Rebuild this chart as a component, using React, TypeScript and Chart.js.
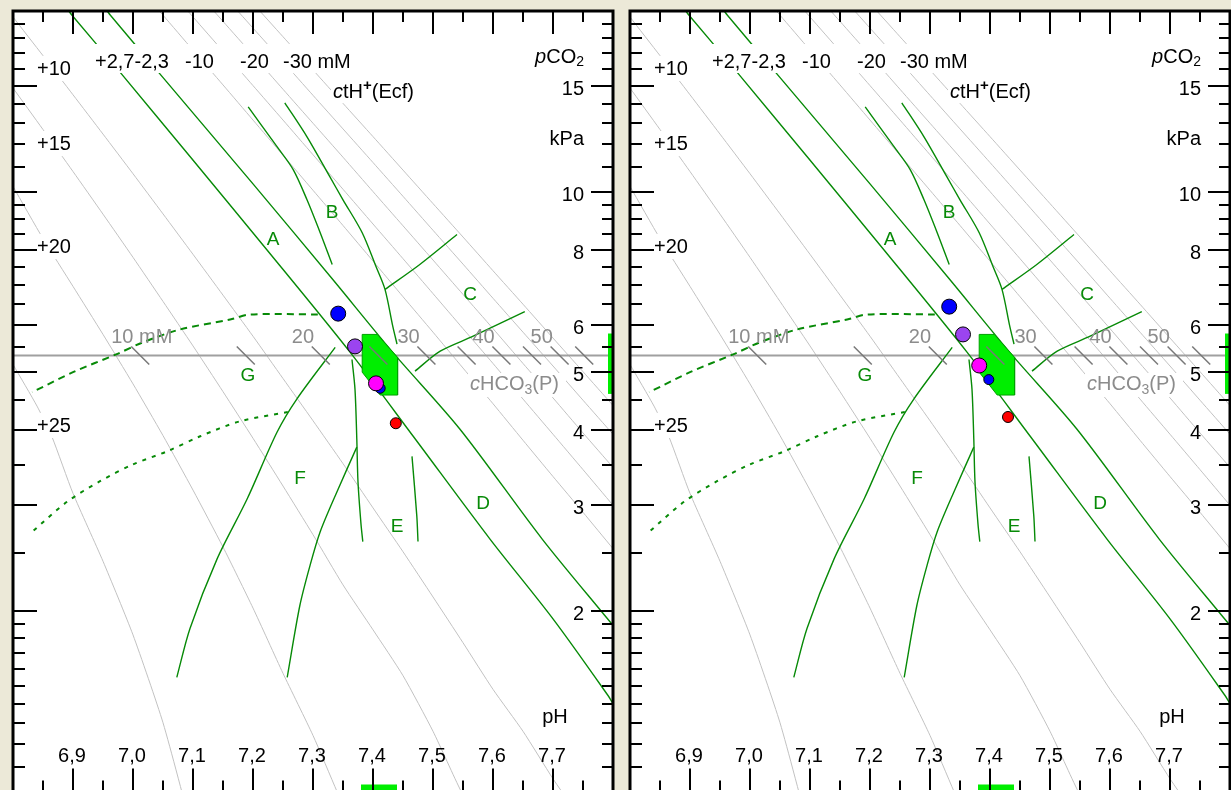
import React, { useEffect, useRef } from "react";
import { Chart, registerables } from "chart.js";

Chart.register(...registerables);

type Pt = [number, number]; // [pH, pCO2 (kPa)]

// ---------- ctH+(Ecf) iso-lines (gray) ----------
const ctHp25: Pt[] = [[6.80, 5.15], [6.84, 4.39], [6.865, 3.90], [6.90, 3.14], [6.95, 2.42], [7.00, 1.824], [7.05, 1.302], [7.10, 0.85]];
const ctHp20: Pt[] = [[6.80, 10.2], [6.85, 8.35], [6.90, 6.95], [6.95, 5.78], [7.00, 4.78], [7.05, 3.92], [7.10, 3.18], [7.15, 2.556], [7.20, 2.022], [7.25, 1.574], [7.30, 1.24], [7.34, 1.0], [7.36, 0.9]];
const ctHp15: Pt[] = [[6.80, 14.88], [6.85, 12.69], [6.90, 10.80], [6.95, 9.17], [7.00, 7.77], [7.05, 6.56], [7.10, 5.53], [7.15, 4.64], [7.20, 3.88], [7.25, 3.23], [7.30, 2.68], [7.35, 2.21], [7.40, 1.86], [7.45, 1.56], [7.50, 1.26], [7.547, 1.0], [7.57, 0.92]];
const ctHp10: Pt[] = [[6.80, 19.54], [6.85, 16.85], [6.90, 14.50], [6.95, 12.47], [7.00, 10.71], [7.05, 9.18], [7.10, 7.86], [7.15, 6.72], [7.20, 5.74], [7.25, 4.88], [7.30, 4.15], [7.35, 3.52], [7.40, 2.97], [7.45, 2.51], [7.50, 2.11], [7.55, 1.77], [7.60, 1.48], [7.65, 1.26], [7.70, 1.05], [7.73, 0.95]];
const ctHm10: Pt[] = [[7.00, 22.48], [7.05, 19.68], [7.10, 17.21], [7.15, 15.06], [7.20, 13.16], [7.25, 11.50], [7.30, 10.05], [7.35, 8.78], [7.40, 7.66], [7.45, 6.68], [7.50, 5.83], [7.55, 5.08], [7.60, 4.43], [7.65, 3.85], [7.70, 3.35], [7.75, 2.92], [7.80, 2.54]];
const ctHm15: Pt[] = [[7.05, 22.3], [7.10, 19.55], [7.15, 17.14], [7.20, 15.02], [7.25, 13.16], [7.30, 11.52], [7.35, 10.09], [7.40, 8.83], [7.45, 7.73], [7.50, 6.76], [7.55, 5.91], [7.60, 5.17], [7.65, 4.51], [7.70, 3.94], [7.75, 3.44], [7.80, 3.00]];
const ctHm20: Pt[] = [[7.10, 21.89], [7.15, 19.22], [7.20, 16.88], [7.25, 14.81], [7.30, 13.00], [7.35, 11.41], [7.40, 10.00], [7.45, 8.77], [7.50, 7.69], [7.55, 6.74], [7.60, 5.91], [7.65, 5.17], [7.70, 4.53], [7.75, 3.96], [7.80, 3.47]];
const ctHm25: Pt[] = [[7.15, 21.31], [7.20, 18.73], [7.25, 16.47], [7.30, 14.47], [7.35, 12.72], [7.40, 11.18], [7.45, 9.82], [7.50, 8.62], [7.55, 7.57], [7.60, 6.64], [7.65, 5.83], [7.70, 5.12], [7.75, 4.49], [7.80, 3.94]];
const ctHm30: Pt[] = [[7.20, 20.59], [7.25, 18.12], [7.30, 15.95], [7.35, 14.03], [7.40, 12.35], [7.45, 10.86], [7.50, 9.55], [7.55, 8.40], [7.60, 7.38], [7.65, 6.49], [7.70, 5.70], [7.75, 5.01], [7.80, 4.40]];
const grayLines: Pt[][] = [ctHp25, ctHp20, ctHp15, ctHp10, ctHm10, ctHm15, ctHm20, ctHm25, ctHm30];

// ---------- green area boundaries ----------
const lineAplus27: Pt[] = [[6.893, 20.0], [6.898, 19.70], [6.978, 15.83], [7.095, 11.44], [7.22, 8.07], [7.362, 5.395], [7.467, 3.91], [7.595, 2.635], [7.70, 1.94], [7.792, 1.444], [7.80, 1.40]];
const lineAminus23: Pt[] = [[6.957, 20.0], [6.962, 19.70], [7.042, 15.83], [7.20, 10.30], [7.333, 7.135], [7.433, 5.395], [7.545, 4.017], [7.682, 2.635], [7.795, 1.918], [7.80, 1.89]];
const lineB1: Pt[] = [[7.192, 13.84], [7.240, 11.88], [7.267, 10.88], [7.290, 9.69], [7.312, 8.54], [7.332, 7.56]];
const lineB2: Pt[] = [[7.253, 14.06], [7.290, 12.34], [7.328, 10.59], [7.350, 9.69], [7.382, 8.54], [7.405, 7.50], [7.420, 6.87], [7.433, 5.96], [7.440, 5.57]];
const lineC1: Pt[] = [[7.420, 6.87], [7.478, 7.56], [7.540, 8.48]];
const lineC2: Pt[] = [[7.470, 5.02], [7.512, 5.42], [7.567, 5.74], [7.653, 6.31]];
const lineE1: Pt[] = [[7.365, 5.25], [7.370, 4.68], [7.373, 3.87], [7.375, 3.28], [7.380, 2.79], [7.383, 2.61]];
const lineE2: Pt[] = [[7.465, 3.62], [7.473, 2.88], [7.475, 2.61]];
const lineF1: Pt[] = [[7.337, 5.50], [7.273, 4.51], [7.240, 3.97], [7.190, 3.07], [7.140, 2.44], [7.095, 1.87], [7.073, 1.55]];
const lineF2: Pt[] = [[7.373, 3.75], [7.340, 3.16], [7.312, 2.71], [7.295, 2.38], [7.278, 2.04], [7.257, 1.55]];
const lineG1: Pt[] = [[7.308, 6.24], [7.195, 6.24], [7.162, 6.12], [7.078, 5.89], [7.017, 5.61], [6.973, 5.36], [6.900, 5.00], [6.832, 4.63]];
const lineG2: Pt[] = [[7.258, 4.29], [7.178, 4.14], [7.112, 3.91], [7.057, 3.69], [7.000, 3.51], [6.945, 3.29], [6.890, 3.04], [6.832, 2.71]];
const greenSolid: Pt[][] = [lineAplus27, lineAminus23, lineB1, lineB2, lineC1, lineC2, lineE1, lineE2, lineF1, lineF2];
const normalArea: Pt[] = [[7.382, 5.78], [7.407, 5.78], [7.441, 5.29], [7.441, 4.58], [7.412, 4.58], [7.382, 5.00], [7.382, 5.78]];

// ---------- reference pCO2 line and cHCO3(P) scale ----------
const refPCO2 = 5.33;
const hco3TickPH = [7.012, 7.188, 7.313, 7.409, 7.489, 7.556, 7.614, 7.665, 7.711, 7.752];
const hco3LabelText = ["10 mM", "20", "30", "40", "50"];
const hco3LabelPH = [7.012, 7.313, 7.489, 7.614, 7.711];

// ---------- axes ----------
const phTicks = [6.85, 6.9, 6.95, 7.0, 7.05, 7.1, 7.15, 7.2, 7.25, 7.3, 7.35, 7.4, 7.45, 7.5, 7.55, 7.6, 7.65, 7.7, 7.75];
const phLabels = [6.9, 7.0, 7.1, 7.2, 7.3, 7.4, 7.5, 7.6, 7.7];
const pco2Ticks = [1.1, 1.2, 1.3, 1.4, 1.5, 1.6, 1.7, 1.8, 1.9, 2, 2.5, 3, 3.5, 4, 4.5, 5, 5.5, 6, 6.5, 7, 7.5, 8, 8.5, 9, 9.5, 10, 11, 12, 13, 14, 15, 16, 17, 18, 19];
const pco2Major = [2, 3, 4, 5, 6, 8, 10, 15];
const pco2Labels = [15, 10, 8, 6, 5, 4, 3, 2];
const ctHLeftLabels = ["+10", "+15", "+20", "+25"];
const phRange = [7.38, 7.44];
const pco2Range = [4.6, 5.8];

// ---------- patient results ----------
const pointColors = ["#0000ff", "#9b44f0", "#0000ff", "#ff0000", "#ff00ff"];
const pointRadii = [7.5, 7.5, 5, 5.5, 7.5];
const leftPH = [7.342, 7.370, 7.412, 7.438, 7.405];
const leftPCO2 = [6.26, 5.52, 4.70, 4.11, 4.79];
const rightPH = [7.332, 7.355, 7.398, 7.430, 7.382];
const rightPCO2 = [6.43, 5.78, 4.86, 4.21, 5.13];

const FAM = "'Liberation Sans', Arial, Helvetica, sans-serif";
const F20 = `20px ${FAM}`;
const I20 = `italic 20px ${FAM}`;
const S14 = `14px ${FAM}`;
const GREEN = "#078a07";

type Part = { t: string; f: string; dy?: number };
function rich(ctx: CanvasRenderingContext2D, x: number, y: number, parts: Part[], color: string, align: "left" | "right" | "center" = "left") {
  let w = 0;
  parts.forEach((p) => { ctx.font = p.f; w += ctx.measureText(p.t).width; });
  let cx = align === "right" ? x - w : align === "center" ? x - w / 2 : x;
  ctx.fillStyle = color;
  ctx.textAlign = "left";
  ctx.textBaseline = "alphabetic";
  parts.forEach((p) => { ctx.font = p.f; ctx.fillText(p.t, cx, y + (p.dy || 0)); cx += ctx.measureText(p.t).width; });
}

function seg(ctx: CanvasRenderingContext2D, x1: number, y1: number, x2: number, y2: number) {
  ctx.beginPath(); ctx.moveTo(x1, y1); ctx.lineTo(x2, y2); ctx.stroke();
}

const overlay = {
  id: "overlay",
  beforeDraw(chart: any) {
    const { ctx, chartArea: a } = chart;
    ctx.save();
    ctx.fillStyle = "#ffffff";
    ctx.fillRect(a.left, a.top, a.right - a.left, a.bottom - a.top);
    ctx.restore();
  },
  afterDatasetsDraw(chart: any) {
    const ctx: CanvasRenderingContext2D = chart.ctx;
    const a = chart.chartArea;
    const xs = chart.scales.x, ys = chart.scales.y;
    ctx.save();
    // cHCO3 scale ticks on the reference line
    const yRef = ys.getPixelForValue(refPCO2);
    ctx.strokeStyle = "#787878"; ctx.lineWidth = 1.5;
    hco3TickPH.forEach((ph) => { const px = xs.getPixelForValue(ph); seg(ctx, px - 9, yRef - 9, px + 9, yRef + 9); });
    hco3LabelText.forEach((t, i) => {
      const px = xs.getPixelForValue(hco3LabelPH[i]);
      rich(ctx, px - 29, yRef - 13, [{ t, f: F20 }], "#8c8c8c");
    });

    // white label backgrounds
    ctx.fillStyle = "#ffffff";
    ctx.fillRect(a.left + 79, a.top + 33, 268, 29);
    const leftBase = [64, 139, 242, 421];
    leftBase.forEach((b) => ctx.fillRect(a.left + 22, a.top + b - 19, 42, 25));
    ctx.fillRect(a.left + 455, a.top + 362, 98, 24);
    ctx.fillRect(a.left + 318, a.top + 66, 92, 26);

    // top ctH+ labels
    rich(ctx, a.left + 82, a.top + 57, [{ t: "+2,7-2,3", f: F20 }], "#000");
    rich(ctx, a.left + 172, a.top + 57, [{ t: "-10", f: F20 }], "#000");
    rich(ctx, a.left + 227, a.top + 57, [{ t: "-20", f: F20 }], "#000");
    rich(ctx, a.left + 270, a.top + 57, [{ t: "-30 mM", f: F20 }], "#000");
    ctHLeftLabels.forEach((t, i) => rich(ctx, a.left + 24, a.top + leftBase[i], [{ t, f: F20 }], "#000"));
    rich(ctx, a.left + 320, a.top + 87, [{ t: "c", f: I20 }, { t: "tH", f: F20 }, { t: "+", f: `bold 15px ${FAM}`, dy: -8 }, { t: "(Ecf)", f: F20 }], "#000");
    rich(ctx, a.left + 457, a.top + 379, [{ t: "c", f: I20 }, { t: "HCO", f: F20 }, { t: "3", f: S14, dy: 4 }, { t: "(P)", f: F20 }], "#8c8c8c");

    // right pCO2 labels
    rich(ctx, a.right - 29, a.top + 52, [{ t: "p", f: I20 }, { t: "CO", f: F20 }, { t: "2", f: S14, dy: 3 }], "#000", "right");
    rich(ctx, a.right - 29, a.top + 134, [{ t: "kPa", f: F20 }], "#000", "right");
    pco2Labels.forEach((v) => {
      const py = ys.getPixelForValue(v);
      rich(ctx, a.right - 29, py + 9, [{ t: String(v), f: F20 }], "#000", "right");
    });
    // pH labels
    rich(ctx, a.left + 542, a.top + 712, [{ t: "pH", f: F20 }], "#000", "center");
    phLabels.forEach((v) => {
      const px = xs.getPixelForValue(v);
      rich(ctx, px - 1, a.top + 751, [{ t: v.toFixed(1).replace(".", ","), f: F20 }], "#000", "center");
    });

    // area letters
    const letters: [string, number, number][] = [["A", 260, 229], ["B", 319, 202], ["C", 457, 284], ["D", 470, 493], ["E", 384, 516], ["F", 287, 468], ["G", 235, 365]];
    ctx.font = `19px ${FAM}`; ctx.fillStyle = GREEN; ctx.textAlign = "center"; ctx.textBaseline = "middle";
    letters.forEach(([t, dx, dy]) => ctx.fillText(t, a.left + dx, a.top + dy));

    // normal range markers on axes
    ctx.fillStyle = "#00ee00";
    const x1 = xs.getPixelForValue(phRange[0]), x2 = xs.getPixelForValue(phRange[1]);
    ctx.fillRect(x1, a.bottom - 7, x2 - x1, 7);
    const y1 = ys.getPixelForValue(pco2Range[1]), y2 = ys.getPixelForValue(pco2Range[0]);
    ctx.fillRect(a.right - 5, y1, 5, y2 - y1);

    // ticks
    ctx.strokeStyle = "#000"; ctx.lineWidth = 2;
    phTicks.forEach((v) => {
      const px = Math.round(xs.getPixelForValue(v));
      const major = Math.abs(v * 10 - Math.round(v * 10)) < 1e-6;
      const len = major ? 23 : 11;
      seg(ctx, px, a.top, px, a.top + len);
      seg(ctx, px, a.bottom, px, a.bottom - len);
    });
    pco2Ticks.forEach((v) => {
      const py = Math.round(ys.getPixelForValue(v));
      const major = pco2Major.indexOf(v) >= 0;
      seg(ctx, a.left, py, a.left + (major ? 24 : 12), py);
      seg(ctx, a.right, py, a.right - (major ? 22 : 11), py);
    });
    // frame
    ctx.lineWidth = 3;
    ctx.strokeRect(a.left, a.top, a.right - a.left, a.bottom - a.top);
    ctx.restore();
  },
};

const xy = (arr: Pt[]) => arr.map(([x, y]) => ({ x, y }));

function makeConfig(ph: number[], pco2: number[]): any {
  const datasets: any[] = [];
  datasets.push({
    data: ph.map((x, i) => ({ x, y: pco2[i] })),
    showLine: false,
    pointRadius: pointRadii,
    pointBackgroundColor: pointColors,
    pointBorderColor: "#000",
    pointBorderWidth: 1,
    order: 0,
  });
  datasets.push({ data: xy(normalArea), showLine: true, fill: "shape", backgroundColor: "#00ee00", borderColor: "#00a000", borderWidth: 1, pointRadius: 0, tension: 0, order: 1 });
  greenSolid.forEach((l) => datasets.push({ data: xy(l), showLine: true, borderColor: GREEN, borderWidth: 1.4, pointRadius: 0, tension: 0.3, order: 2 }));
  datasets.push({ data: xy(lineG1), showLine: true, borderColor: GREEN, borderWidth: 2, borderDash: [7, 5], pointRadius: 0, tension: 0.3, order: 2 });
  datasets.push({ data: xy(lineG2), showLine: true, borderColor: GREEN, borderWidth: 2, borderDash: [4, 6], pointRadius: 0, tension: 0.3, order: 2 });
  datasets.push({ data: [{ x: 6.8, y: refPCO2 }, { x: 7.8, y: refPCO2 }], showLine: true, borderColor: "#a0a0a0", borderWidth: 2, pointRadius: 0, order: 4 });
  grayLines.forEach((l) => datasets.push({ data: xy(l), showLine: true, borderColor: "#c2c2c2", borderWidth: 1, pointRadius: 0, tension: 0.2, order: 5 }));
  return {
    type: "scatter",
    data: { datasets },
    options: {
      responsive: false,
      animation: false,
      devicePixelRatio: 1,
      events: [],
      layout: { padding: { left: 13, top: 11, right: 13, bottom: 7 } },
      plugins: { legend: { display: false }, tooltip: { enabled: false } },
      elements: { line: { capBezierPoints: false } },
      scales: {
        x: { type: "linear", min: 6.8, max: 7.8, display: false },
        y: { type: "logarithmic", min: 1, max: 20, display: false },
      },
    },
    plugins: [overlay],
  };
}

function Panel({ left, ph, pco2 }: { left: number; ph: number[]; pco2: number[] }) {
  const ref = useRef<HTMLCanvasElement>(null);
  useEffect(() => {
    const chart = new Chart(ref.current as HTMLCanvasElement, makeConfig(ph, pco2));
    return () => chart.destroy();
  }, []);
  return <canvas ref={ref} width={626} height={800} style={{ position: "absolute", left, top: 0, width: 626, height: 800 }} />;
}

export default function App() {
  return (
    <div style={{ position: "fixed", left: 0, top: 0, width: 1231, height: 790, background: "#ece9d8", overflow: "hidden" }}>
      <Panel left={0} ph={leftPH} pco2={leftPCO2} />
      <Panel left={617} ph={rightPH} pco2={rightPCO2} />
    </div>
  );
}
